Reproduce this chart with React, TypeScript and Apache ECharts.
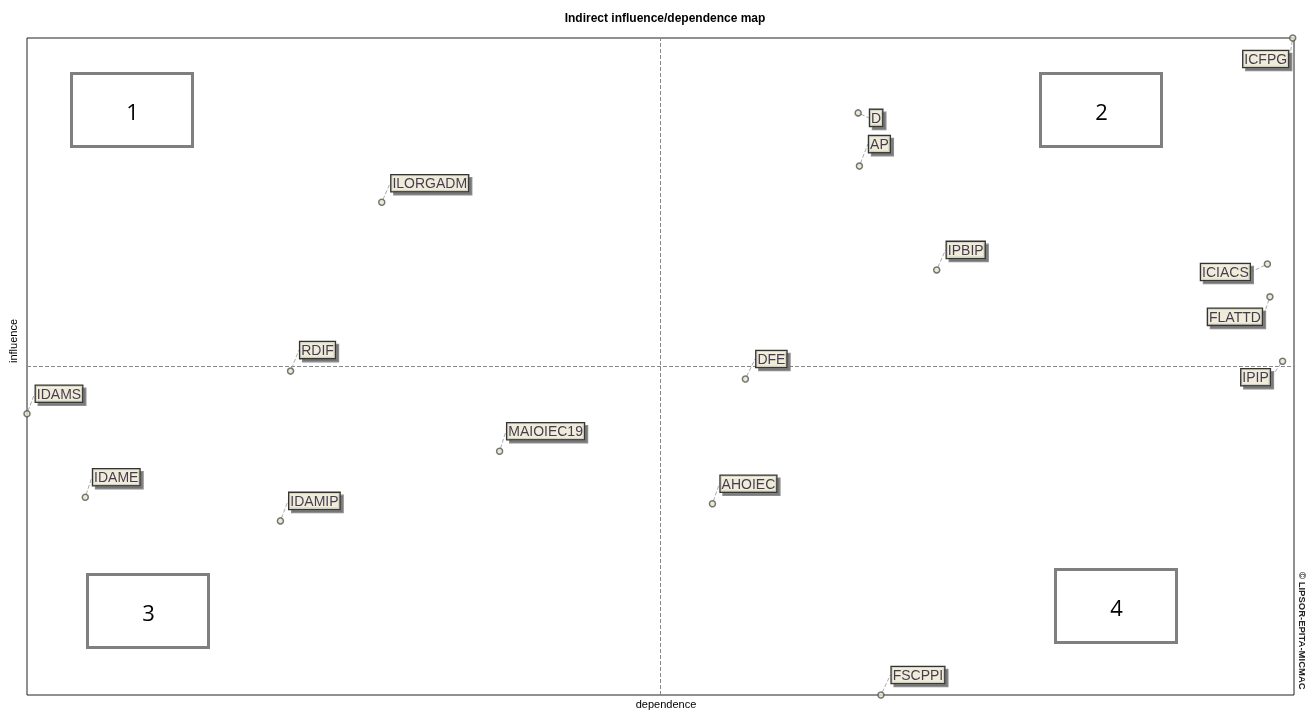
import React, { useEffect, useRef } from "react";
import * as echarts from "echarts";

const names = [
  "ICFPG", "D", "AP", "ILORGADM", "IPBIP", "ICIACS", "FLATTD", "IPIP",
  "RDIF", "DFE", "IDAMS", "MAIOIEC19", "IDAME", "AHOIEC", "IDAMIP", "FSCPPI",
];
const dependence = [
  99.9, 65.6, 65.7, 28.0, 71.8, 97.9, 98.1, 99.1,
  20.8, 56.7, 0.0, 37.3, 4.6, 54.1, 20.0, 67.4,
];
const influence = [
  100.0, 88.6, 80.5, 75.0, 64.7, 65.6, 60.6, 50.8,
  49.3, 48.1, 42.8, 37.1, 30.1, 29.1, 26.5, 0.0,
];
// label offsets (label centre relative to the point, in pixels)
const labelDx = [-27, 18, 20, 48, 29, -42, -35, -27, 27, 26, 32, 46, 31, 36, 34, 37];
const labelDy = [21, 5, -22, -19, -20, 8, 20, 16, -21, -20, -20, -20, -20, -20, -20, -20];

const quadrantLabels = ["1", "2", "3", "4"];
const FONT = "'Liberation Sans', Arial, sans-serif";

export default function App() {
  const ref = useRef<HTMLDivElement>(null);
  useEffect(() => {
    const chart = echarts.init(ref.current!, null, { renderer: "svg" });
    const data = names.map((n, i) => ({ name: n, value: [dependence[i], influence[i]] }));
    const box = (x: number, y: number, label: string) => ({
      type: "group",
      left: x,
      top: y,
      children: [
        {
          type: "rect",
          shape: { x: 0, y: 0, width: 121, height: 73 },
          style: { fill: "#fff", stroke: "#7f7f7f", lineWidth: 3 },
        },
        {
          type: "text",
          x: 61,
          y: 37,
          style: {
            text: label,
            font: "22px 'Open Sans', 'Liberation Sans', sans-serif",
            fill: "#000",
            align: "center",
            verticalAlign: "middle",
          },
        },
      ],
    });
    chart.setOption({
      animation: false,
      title: {
        text: "Indirect influence/dependence map",
        left: 660,
        textAlign: "center",
        top: 7,
        textStyle: { fontFamily: FONT, fontSize: 12, fontWeight: "bold", color: "#000" },
      },
      grid: {
        left: 27, right: 16, top: 38, bottom: 15,
        containLabel: false,
        outerBoundsMode: "none",
        show: true, borderColor: "#222", borderWidth: 1, backgroundColor: "#fff",
      },
      xAxis: {
        type: "value", min: 0, max: 100,
        axisLine: { show: false }, axisTick: { show: false }, axisLabel: { show: false }, splitLine: { show: false },
      },
      yAxis: {
        type: "value", min: 0, max: 100,
        axisLine: { show: false }, axisTick: { show: false }, axisLabel: { show: false }, splitLine: { show: false },
      },
      graphic: [
        box(70, 72, quadrantLabels[0]),
        box(1039, 72, quadrantLabels[1]),
        box(86, 573, quadrantLabels[2]),
        box(1054, 568, quadrantLabels[3]),
        {
          type: "text",
          x: 666,
          y: 698,
          style: { text: "dependence", font: "11px " + FONT, fill: "#000", align: "center", verticalAlign: "top" },
        },
        {
          type: "text",
          x: 13,
          y: 341,
          rotation: Math.PI / 2,
          style: { text: "influence", font: "11px " + FONT, fill: "#000", align: "center", verticalAlign: "middle" },
        },
        {
          type: "text",
          x: 1297,
          y: 572,
          rotation: -Math.PI / 2,
          style: {
            text: "© LIPSOR-EPITA-MICMAC",
            font: "bold 9.5px " + FONT,
            fill: "#222",
            align: "left",
            verticalAlign: "bottom",
          },
        },
      ],
      series: [
        {
          type: "scatter",
          clip: false,
          symbol: "circle",
          symbolSize: 6,
          itemStyle: { color: "#e6e6c8", borderColor: "#555", borderWidth: 1.5 },
          data,
          z: 5,
          label: {
            show: true,
            position: "inside",
            formatter: "{b}",
            fontFamily: FONT,
            fontSize: 14,
            lineHeight: 14,
            color: "#1a0c2c",
            backgroundColor: "#fffde6",
            borderColor: "#000",
            borderWidth: 1.3,
            padding: [2, 1, 0, 1],
            shadowColor: "#707070",
            shadowOffsetX: 3,
            shadowOffsetY: 3,
            shadowBlur: 0,
          },
          labelLine: { show: true, lineStyle: { type: "dashed", color: "#aaa", width: 1 } },
          labelLayout: (p: any) => ({ dx: labelDx[p.dataIndex], dy: labelDy[p.dataIndex] }),
          markLine: {
            silent: true,
            symbol: "none",
            label: { show: false },
            lineStyle: { type: "dashed", color: "#888", width: 1 },
            data: [{ xAxis: 50 }, { yAxis: 50 }],
          },
        },
      ],
    });
    return () => chart.dispose();
  }, []);
  return <div ref={ref} style={{ position: "fixed", left: 0, top: 0, width: 1310, height: 710 }} />;
}
